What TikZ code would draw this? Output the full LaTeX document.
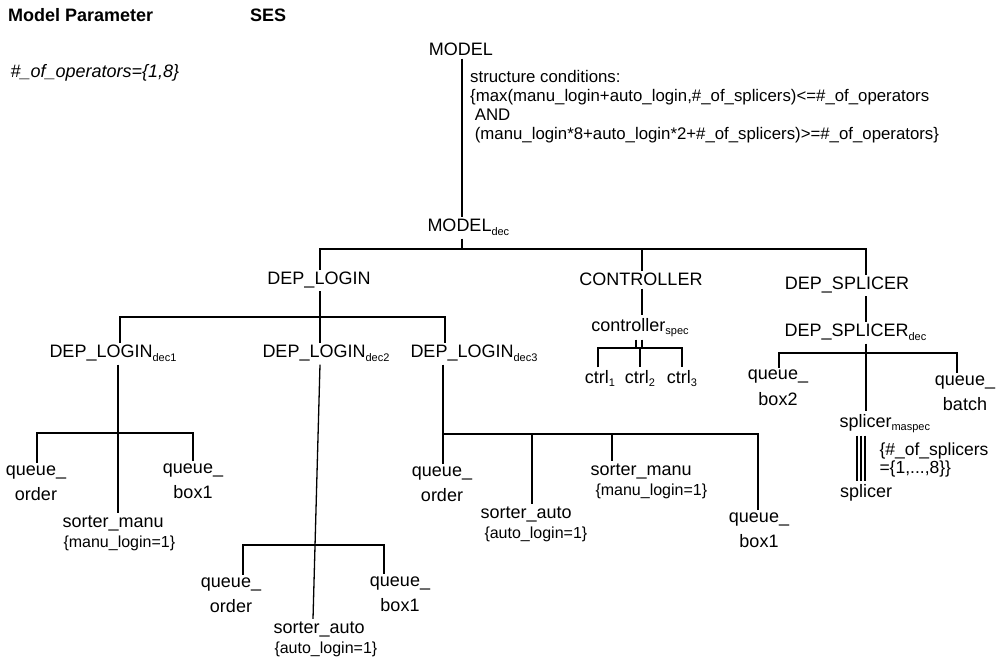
\documentclass[tikz,border=0pt]{standalone}
\usepackage{fontspec}
\setmainfont{Liberation Sans}
\newcommand\sbs[1]{\raisebox{-0.22em}{\fontsize{11}{11}\selectfont #1}}
\begin{document}
\begin{tikzpicture}[x=1pt,y=-1pt,
  lab/.style={font=\fontsize{18}{25}\selectfont, inner sep=0pt, outer sep=2.5pt, align=center},
  labl/.style={lab, align=left},
  sml/.style={font=\fontsize{16}{19}\selectfont, inner sep=0pt, outer sep=2.5pt},
  hdr/.style={font=\fontsize{18}{22}\selectfont\bfseries, inner sep=0pt},
  cnd/.style={font=\fontsize{16.8}{19}\selectfont, inner sep=0pt, align=left},
  ln/.style={line width=1.3pt}]
\useasboundingbox (0,0) rectangle (1005,663);

% headers
\node[hdr,anchor=base west] (mp) at (8,22) {Model Parameter};
\node[hdr,anchor=base west] (ses) at (250,22) {SES};
\node[lab,anchor=base west,font=\fontsize{18}{22}\selectfont\itshape] (ops) at (8,78) {\#\_of\_operators=\{1,8\}};

% top
\node[lab,anchor=base] (model) at (461,56) {MODEL};
\node[cnd,anchor=base west] (cond) at (470,140) {structure conditions:\\\{max(manu\_login+auto\_login,\#\_of\_splicers)<=\#\_of\_operators\\\ AND\\\ (manu\_login*8+auto\_login*2+\#\_of\_splicers)>=\#\_of\_operators\}};
\node[lab,anchor=base west] (mdec) at (425,232) {MODEL\sbs{dec}};

% level 1
\node[lab,anchor=base] (depl) at (319,285) {DEP\_LOGIN};
\node[lab,anchor=base] (ctrl) at (641,286) {CONTROLLER};
\node[lab,anchor=base] (dsp) at (847,290) {DEP\_SPLICER};

% level 2
\node[lab,anchor=base west] (dl1) at (47,358) {DEP\_LOGIN\sbs{dec1}};
\node[lab,anchor=base west] (dl2) at (260,358) {DEP\_LOGIN\sbs{dec2}};
\node[lab,anchor=base west] (dl3) at (408,358) {DEP\_LOGIN\sbs{dec3}};
\node[lab,anchor=base] (cspec) at (640,331) {controller\sbs{spec}};
\node[lab,anchor=base west] (dspd) at (782,337) {DEP\_SPLICER\sbs{dec}};

% controller leaves
\node[lab,anchor=base] (c1) at (600,383) {ctrl\sbs{1}};
\node[lab,anchor=base] (c2) at (640,383) {ctrl\sbs{2}};
\node[lab,anchor=base] (c3) at (682,383) {ctrl\sbs{3}};

% dl1 leaves
\node[lab,anchor=base] (qo1) at (36,500) {queue\_\\order};
\node[lab,anchor=base] (qb1) at (193,498) {queue\_\\box1};
\node[lab,anchor=base west] (sm1) at (60,527) {sorter\_manu};
\node[sml,anchor=base west] (sm1c) at (61,547) {\{manu\_login=1\}};

% dl2 leaves
\node[lab,anchor=base] (qo2) at (231,612) {queue\_\\order};
\node[lab,anchor=base] (qb2) at (400,611) {queue\_\\box1};
\node[lab,anchor=base west] (sa2) at (271,633) {sorter\_auto};
\node[sml,anchor=base west] (sa2c) at (272,653) {\{auto\_login=1\}};

% dl3 leaves
\node[lab,anchor=base] (qo3) at (442,501) {queue\_\\order};
\node[lab,anchor=base west] (sa3) at (478,518) {sorter\_auto};
\node[sml,anchor=base west] (sa3c) at (482,538) {\{auto\_login=1\}};
\node[lab,anchor=base west] (sm3) at (588,475) {sorter\_manu};
\node[sml,anchor=base west] (sm3c) at (593,495) {\{manu\_login=1\}};
\node[lab,anchor=base] (qb3) at (759,547) {queue\_\\box1};

% splicer leaves
\node[lab,anchor=base] (qx2) at (778,405) {queue\_\\box2};
\node[lab,anchor=base] (qbt) at (965,410) {queue\_\\batch};
\node[lab,anchor=base west] (sms) at (837,427) {splicer\sbs{maspec}};
\node[labl,anchor=base west,font=\fontsize{17.5}{18}\selectfont] (nsp) at (877,473) {\{\#\_of\_splicers\\=\{1,...,8\}\}};
\node[lab,anchor=base] (spl) at (866,497) {splicer};

% ---- connectors ----
\coordinate (vm) at (462,0); \coordinate (h0) at (0,249);
\coordinate (vdl) at (320,0); \coordinate (vct) at (642,0); \coordinate (vds) at (866,0);
\draw[ln] (vm |- model.south) -- (vm |- mdec.north);
\draw[ln] (vm |- mdec.south) -- (vm |- h0);
\draw[ln] (vdl |- depl.north) -- (vdl |- h0) -- (vds |- h0) -- (vds |- dsp.north);
\draw[ln] (vct |- h0) -- (vct |- ctrl.north);

% DEP_LOGIN
\coordinate (h1) at (0,317); \coordinate (va) at (120,0); \coordinate (vc) at (445,0);
\draw[ln] (vdl |- depl.south) -- (vdl |- dl2.north);
\draw[ln] (va |- dl1.north) -- (va |- h1) -- (vc |- h1) -- (vc |- dl3.north);

% dl1
\coordinate (h2) at (0,433); \coordinate (v1a) at (37,0); \coordinate (v1b) at (193,0); \coordinate (v1m) at (118,0);
\draw[ln] (v1m |- dl1.south) -- (v1m |- sm1.north);
\draw[ln] (v1a |- qo1.north) -- (v1a |- h2) -- (v1b |- h2) -- (v1b |- qb1.north);

% dl2
\coordinate (h3) at (0,545); \coordinate (v2a) at (243,0); \coordinate (v2b) at (384,0); \coordinate (v2m) at (313,0);
\draw[ln] (vdl |- dl2.south) -- (v2m |- sa2.north);
\draw[ln] (v2a |- qo2.north) -- (v2a |- h3) -- (v2b |- h3) -- (v2b |- qb2.north);

% dl3
\coordinate (h4) at (0,434); \coordinate (v3a) at (443,0); \coordinate (v3b) at (532,0);
\coordinate (v3c) at (612,0); \coordinate (v3d) at (758,0);
\draw[ln] (v3a |- dl3.south) -- (v3a |- qo3.north);
\draw[ln] (v3a |- h4) -- (v3d |- h4) -- (v3d |- qb3.north);
\draw[ln] (v3b |- h4) -- (v3b |- sa3.north);
\draw[ln] (v3c |- h4) -- (v3c |- sm3.north);

% controller
\coordinate (h5) at (0,348); \coordinate (vc1) at (598,0); \coordinate (vc2) at (640,0);
\coordinate (vc3) at (682,0); \coordinate (vcc) at (636,0); \coordinate (vcd) at (642,0);
\draw[ln] (vct |- ctrl.south) -- (vct |- cspec.north);
\draw[ln] (vcc |- cspec.south) -- (vcc |- h5);
\draw[ln] (vcd |- cspec.south) -- (vcd |- h5);
\draw[ln] (vc1 |- c1.north) -- (vc1 |- h5) -- (vc3 |- h5) -- (vc3 |- c3.north);
\draw[ln] (vc2 |- h5) -- (vc2 |- c2.north);

% splicer
\coordinate (h6) at (0,353); \coordinate (vs1) at (779,0); \coordinate (vs2) at (957,0);
\coordinate (t1) at (857,0); \coordinate (t2) at (861,0); \coordinate (t3) at (865,0);
\draw[ln] (vds |- dsp.south) -- (vds |- dspd.north);
\draw[ln] (vds |- dspd.south) -- (vds |- sms.north);
\draw[ln] (vs1 |- qx2.north) -- (vs1 |- h6) -- (vs2 |- h6) -- (vs2 |- qbt.north);
\draw[ln] (t1 |- sms.south) -- (t1 |- spl.north);
\draw[ln] (t2 |- sms.south) -- (t2 |- spl.north);
\draw[ln] (t3 |- sms.south) -- (t3 |- spl.north);
\end{tikzpicture}
\end{document}
